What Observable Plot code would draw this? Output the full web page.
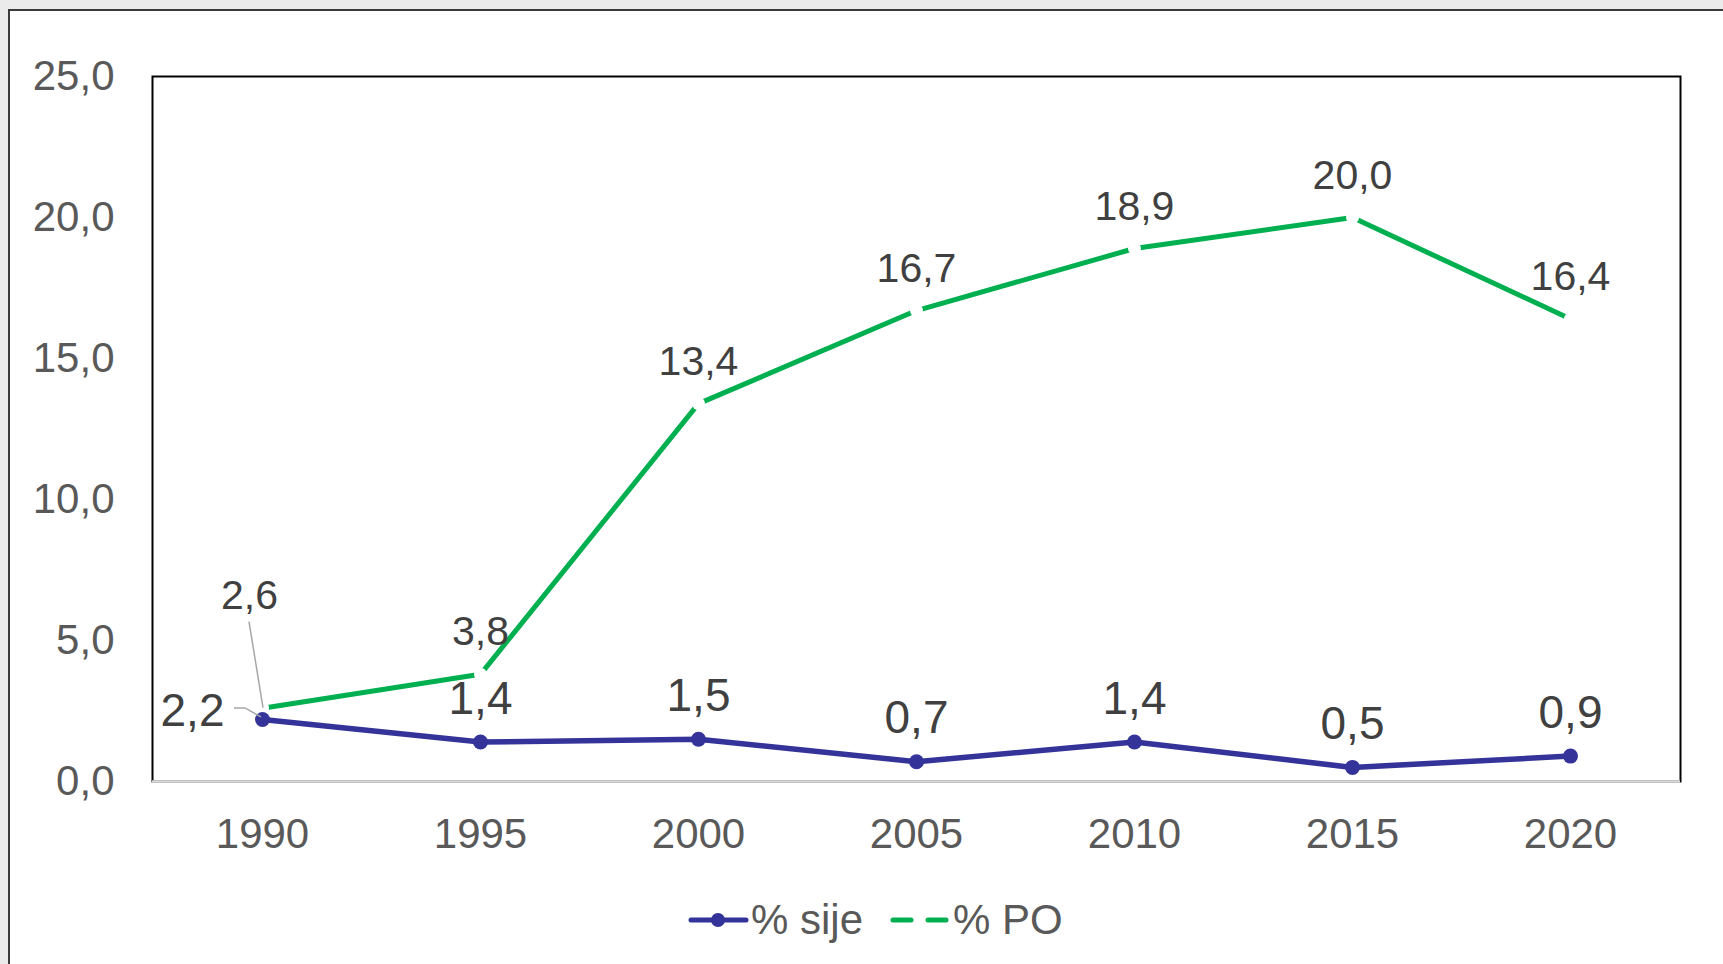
<!DOCTYPE html>
<html>
<head>
<meta charset="utf-8">
<script src="https://cdn.jsdelivr.net/npm/d3@7"></script>
<script src="https://cdn.jsdelivr.net/npm/@observablehq/plot@0.6"></script>
<style>
  html, body { margin: 0; padding: 0; background: #ebebeb; width: 1723px; height: 964px; overflow: hidden; font-family: "Liberation Sans", Arial, sans-serif; }
  #panel { position: absolute; left: 8px; top: 9px; width: 1740px; height: 980px; background: #fff; border-left: 2px solid #3a3a3a; border-top: 2px solid #3a3a3a; }
  #chart { position: absolute; left: 0; top: 0; }
  .leg { position: absolute; top: 896px; height: 48px; line-height: 48px; font-size: 42px; color: #595959; white-space: nowrap; }
  .sw { position: absolute; top: 896px; }
</style>
</head>
<body>
<div id="panel"></div>
<div id="chart"></div>
<svg class="sw" style="left:688px" width="62" height="48"><line x1="3" x2="58" y1="24" y2="24" stroke="#333399" stroke-width="5" stroke-linecap="round"/><circle cx="30" cy="24" r="7" fill="#333399"/></svg>
<div class="leg" style="left:751px">% sije</div>
<svg class="sw" style="left:889px" width="62" height="48"><line x1="4" x2="58" y1="24" y2="24" stroke="#00B050" stroke-width="5" stroke-linecap="round" stroke-dasharray="18 17"/></svg>
<div class="leg" style="left:953px">% PO</div>
<script>
const years = ["1990", "1995", "2000", "2005", "2010", "2015", "2020"];
const sije = [2.2, 1.4, 1.5, 0.7, 1.4, 0.5, 0.9];
const po = [2.6, 3.8, 13.4, 16.7, 18.9, 20.0, 16.4];
const yTicks = [0, 5, 10, 15, 20, 25];

const fmt = v => d3.format(".1f")(v).replace(".", ",");
const sijeData = years.map((year, i) => ({year, value: sije[i]}));
const poData = years.map((year, i) => ({year, value: po[i]}));

const plot = Plot.plot({
  width: 1723,
  height: 880,
  marginLeft: 152,
  marginRight: 43,
  marginTop: 76,
  marginBottom: 99,
  style: {background: "transparent", fontFamily: "'Liberation Sans', Arial, sans-serif", overflow: "visible"},
  x: {type: "point", domain: years, padding: 0.5, label: null},
  y: {domain: [0, 25], label: null},
  marks: [
    Plot.frame({stroke: "#000", strokeWidth: 2}),
    Plot.ruleY([0], {stroke: "#d9d9d9", strokeWidth: 2.5}),
    Plot.axisX({tickSize: 0, tickPadding: 37, fontSize: 42, fill: "#595959", label: null}),
    Plot.axisY({ticks: yTicks, tickSize: 0, tickPadding: 38, fontSize: 42, fill: "#595959", tickFormat: fmt, label: null}),
    Plot.line(poData, {x: "year", y: "value", stroke: "#00B050", strokeWidth: 5}),
    Plot.dot(poData, {x: "year", y: "value", r: 6.5, fill: "white", stroke: "none"}),
    Plot.line(sijeData, {x: "year", y: "value", stroke: "#333399", strokeWidth: 5.5}),
    Plot.dot(sijeData, {x: "year", y: "value", r: 7.5, fill: "#333399", stroke: "none"}),
    Plot.text(poData.slice(1), {x: "year", y: "value", text: d => fmt(d.value), dy: -42, fontSize: 41, fill: "#404040"}),
    Plot.text(sijeData.slice(1), {x: "year", y: "value", text: d => fmt(d.value), dy: -43, fontSize: 46, fill: "#404040"}),
    Plot.text(poData.slice(0, 1), {x: "year", y: "value", text: d => fmt(d.value), dx: -13, dy: -112, fontSize: 41, fill: "#404040"}),
    Plot.text(sijeData.slice(0, 1), {x: "year", y: "value", text: d => fmt(d.value), dx: -70, dy: -8, fontSize: 46, fill: "#404040"})
  ]
});
document.getElementById("chart").appendChild(plot);

// leader lines for the 1990 labels, positioned from the plot's own scales
const sx = plot.scale("x"), sy = plot.scale("y");
const svg = d3.select(plot);
const px = sx.apply(years[0]);
const pyPo = sy.apply(po[0]);
const pySi = sy.apply(sije[0]);
svg.append("path")
  .attr("d", `M${px - 13},${pyPo - 86}L${px + 1},${pyPo}`)
  .attr("fill", "none").attr("stroke", "#a6a6a6").attr("stroke-width", 1.5);
svg.append("path")
  .attr("d", `M${px - 28},${pySi - 11}L${px - 17},${pySi - 11}L${px - 1},${pySi - 2}`)
  .attr("fill", "none").attr("stroke", "#a6a6a6").attr("stroke-width", 1.5);
</script>
</body>
</html>
